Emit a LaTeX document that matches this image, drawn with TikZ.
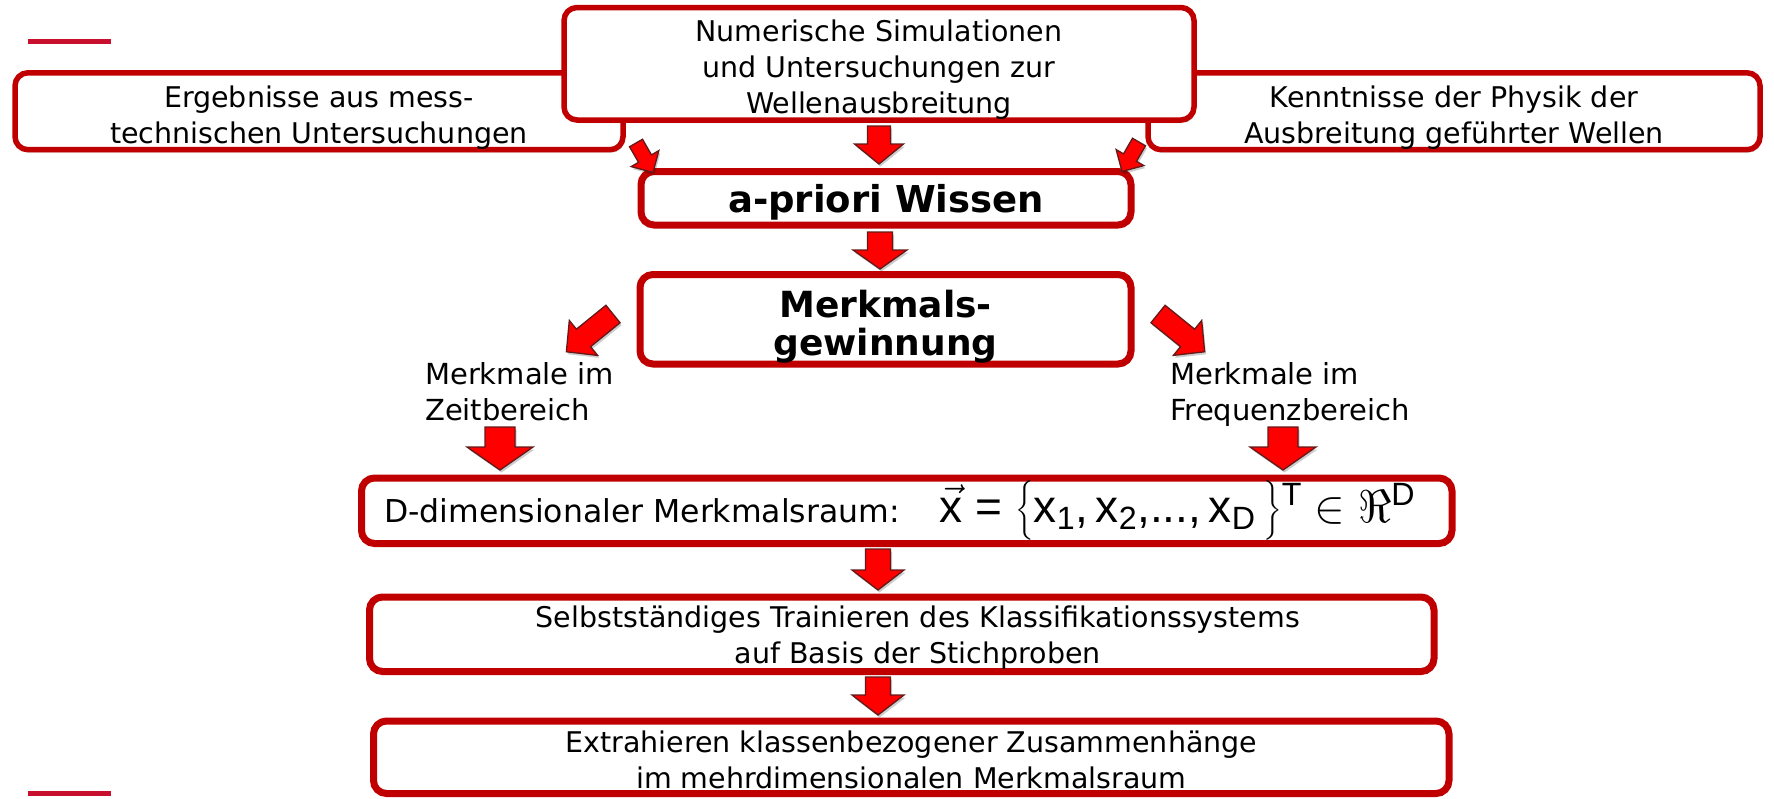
\RequirePackage{fix-cm}
\documentclass[tikz,border=0pt]{standalone}
\usepackage{amsmath}
\usepackage{fontspec}
\setmainfont{DejaVu Sans}
\newfontfamily\arialfam{Liberation Sans}
\usetikzlibrary{calc,shadows}

\definecolor{boxred}{RGB}{192,0,0}
\definecolor{arrowred}{RGB}{255,0,0}
\definecolor{arrowedge}{RGB}{100,25,25}
\definecolor{markred}{RGB}{200,16,46}

% upright sans letters inside the formula
\newcommand\mtx[1]{\text{\arialfam #1}}
% invisible strut: a taller first line moves a text block downwards
\newcommand\lift[1]{\rule{0pt}{#1}}

\tikzset{
  boxbase/.style={rectangle, rounded corners=13pt, draw=boxred, fill=white,
    inner sep=0pt, align=center,
    drop shadow={shadow xshift=1.5pt, shadow yshift=-3pt, fill=black, opacity=0.18}},
  thinbox/.style={boxbase, line width=5.5pt, font=\fontsize{28.5}{36}\selectfont},
  thickbox/.style={boxbase, line width=7pt, font=\fontsize{28.5}{36}\selectfont},
  boldbox/.style={boxbase, line width=7pt, font=\bfseries\fontsize{36}{38}\selectfont},
  sidelabel/.style={inner sep=0pt, align=left, anchor=north west,
    font=\fontsize{29}{36}\selectfont},
  blockarrow/.style={draw=arrowedge, fill=arrowred, line width=1.3pt, line join=miter,
    drop shadow={shadow xshift=1.5pt, shadow yshift=-2.5pt, fill=black, opacity=0.2}},
  cornermark/.style={draw=markred, line width=5pt},
}

% block arrow: #1 tail point, #2 direction (clockwise from east),
% #3 length, #4 shaft width, #5 head width, #6 head length
\newcommand\blockarrow[6]{%
  \path[blockarrow]
    ($(#1)+(#2+90:#4/2)$) --
    ($(#1)+(#2:#3-#6)+(#2+90:#4/2)$) --
    ($(#1)+(#2:#3-#6)+(#2+90:#5/2)$) --
    ($(#1)+(#2:#3)$) --
    ($(#1)+(#2:#3-#6)+(#2-90:#5/2)$) --
    ($(#1)+(#2:#3-#6)+(#2-90:#4/2)$) --
    ($(#1)+(#2-90:#4/2)$) -- cycle;}

\begin{document}
\begin{tikzpicture}[x=1pt, y=-1pt]
  \useasboundingbox (0,0) rectangle (1774,798);

  % corner marks
  \coordinate (m1a) at (28,41);    \coordinate (m1b) at (111,41);
  \coordinate (m2a) at (28,793.5); \coordinate (m2b) at (111,793.5);
  \draw[cornermark] (m1a) -- (m1b);
  \draw[cornermark] (m2a) -- (m2b);

  % sources of prior knowledge
  \node[thinbox, minimum width=608pt, minimum height=76.5pt] (erg) at (319,111.25)
    {\lift{35pt}Ergebnisse aus mess-\\technischen Untersuchungen};
  \node[thinbox, minimum width=612pt, minimum height=76.5pt] (ken) at (1454,111.25)
    {\lift{35pt}Kenntnisse der Physik der\\Ausbreitung geführter Wellen};
  \node[thinbox, minimum width=630pt, minimum height=112.5pt] (num) at (879,63.75)
    {\lift{34pt}Numerische Simulationen\\und Untersuchungen zur\\Wellenausbreitung};

  % main chain
  \node[boldbox, font=\bfseries\fontsize{37}{38}\selectfont,
        minimum width=490pt, minimum height=53.5pt] (apr) at (886,198.25)
    {\lift{37pt}a-priori Wissen};
  \node[boldbox, minimum width=491pt, minimum height=89.5pt] (mg) at (885.5,319.25)
    {\lift{42pt}Merkmals-\\gewinnung};

  \node[sidelabel] (zeit) at (425,362) {Merkmale im\\Zeitbereich};
  \node[sidelabel] (freq) at (1170,362) {Merkmale im\\Frequenzbereich};

  \node[thickbox, minimum width=1090.5pt, minimum height=65.5pt] (dbox) at (906.75,510.75)
    {{\fontsize{31.5}{36}\selectfont D-dimensionaler Merkmalsraum:}\hspace{40pt}%
     {\fontsize{46}{46}\selectfont
      $\vec{\mtx{x}}\mathrel{\mtx{=}}\bigl\{\mtx{x}_{\mtx{1}}\mtx{,}\,\mtx{x}_{\mtx{2}}\mtx{,...,}\,\mtx{x}_{\mtx{D}}\,\bigr\}{}^{\mtx{T}}\in\Re^{\mtx{D}}$}\hspace{14pt}};
  % the text of this box sits a little right of its centre
  \node[thickbox, minimum width=1064.5pt, minimum height=74.5pt] (sel) at (901.75,634.25)
    {\lift{29pt}\hspace*{32pt}Selbstständiges Trainieren des Klassifikationssystems\\\hspace*{32pt}auf Basis der Stichproben};
  \node[thickbox, minimum width=1075.5pt, minimum height=72.5pt] (ext) at (911.25,757.25)
    {\lift{27pt}Extrahieren klassenbezogener Zusammenhänge\\im mehrdimensionalen Merkmalsraum};

  % block arrows
  \coordinate (t1) at (636,143);
  \coordinate (t2) at (1139,142);
  \coordinate (t3) at (879,126);
  \coordinate (t4) at (880,232);
  \coordinate (t5) at (613,314);
  \coordinate (t6) at (1158,314);
  \coordinate (t7) at (500,427);
  \coordinate (t8) at (1283,427);
  \coordinate (t9) at (878,549);
  \coordinate (t10) at (878,677);

  \blockarrow{t1}{60}{34}{15}{32}{16}
  \blockarrow{t2}{120}{34}{15}{32}{16}
  \blockarrow{t3}{90}{38}{23}{49}{20}
  \blockarrow{t4}{90}{37}{25}{54}{19}
  \blockarrow{t5}{141}{60}{22.5}{45}{22}
  \blockarrow{t6}{39}{60}{22.5}{45}{22}
  \blockarrow{t7}{90}{43}{30}{66}{23}
  \blockarrow{t8}{90}{43}{30}{66}{23}
  \blockarrow{t9}{90}{41}{25}{52}{20}
  \blockarrow{t10}{90}{38}{25}{52}{20}
\end{tikzpicture}
\end{document}
